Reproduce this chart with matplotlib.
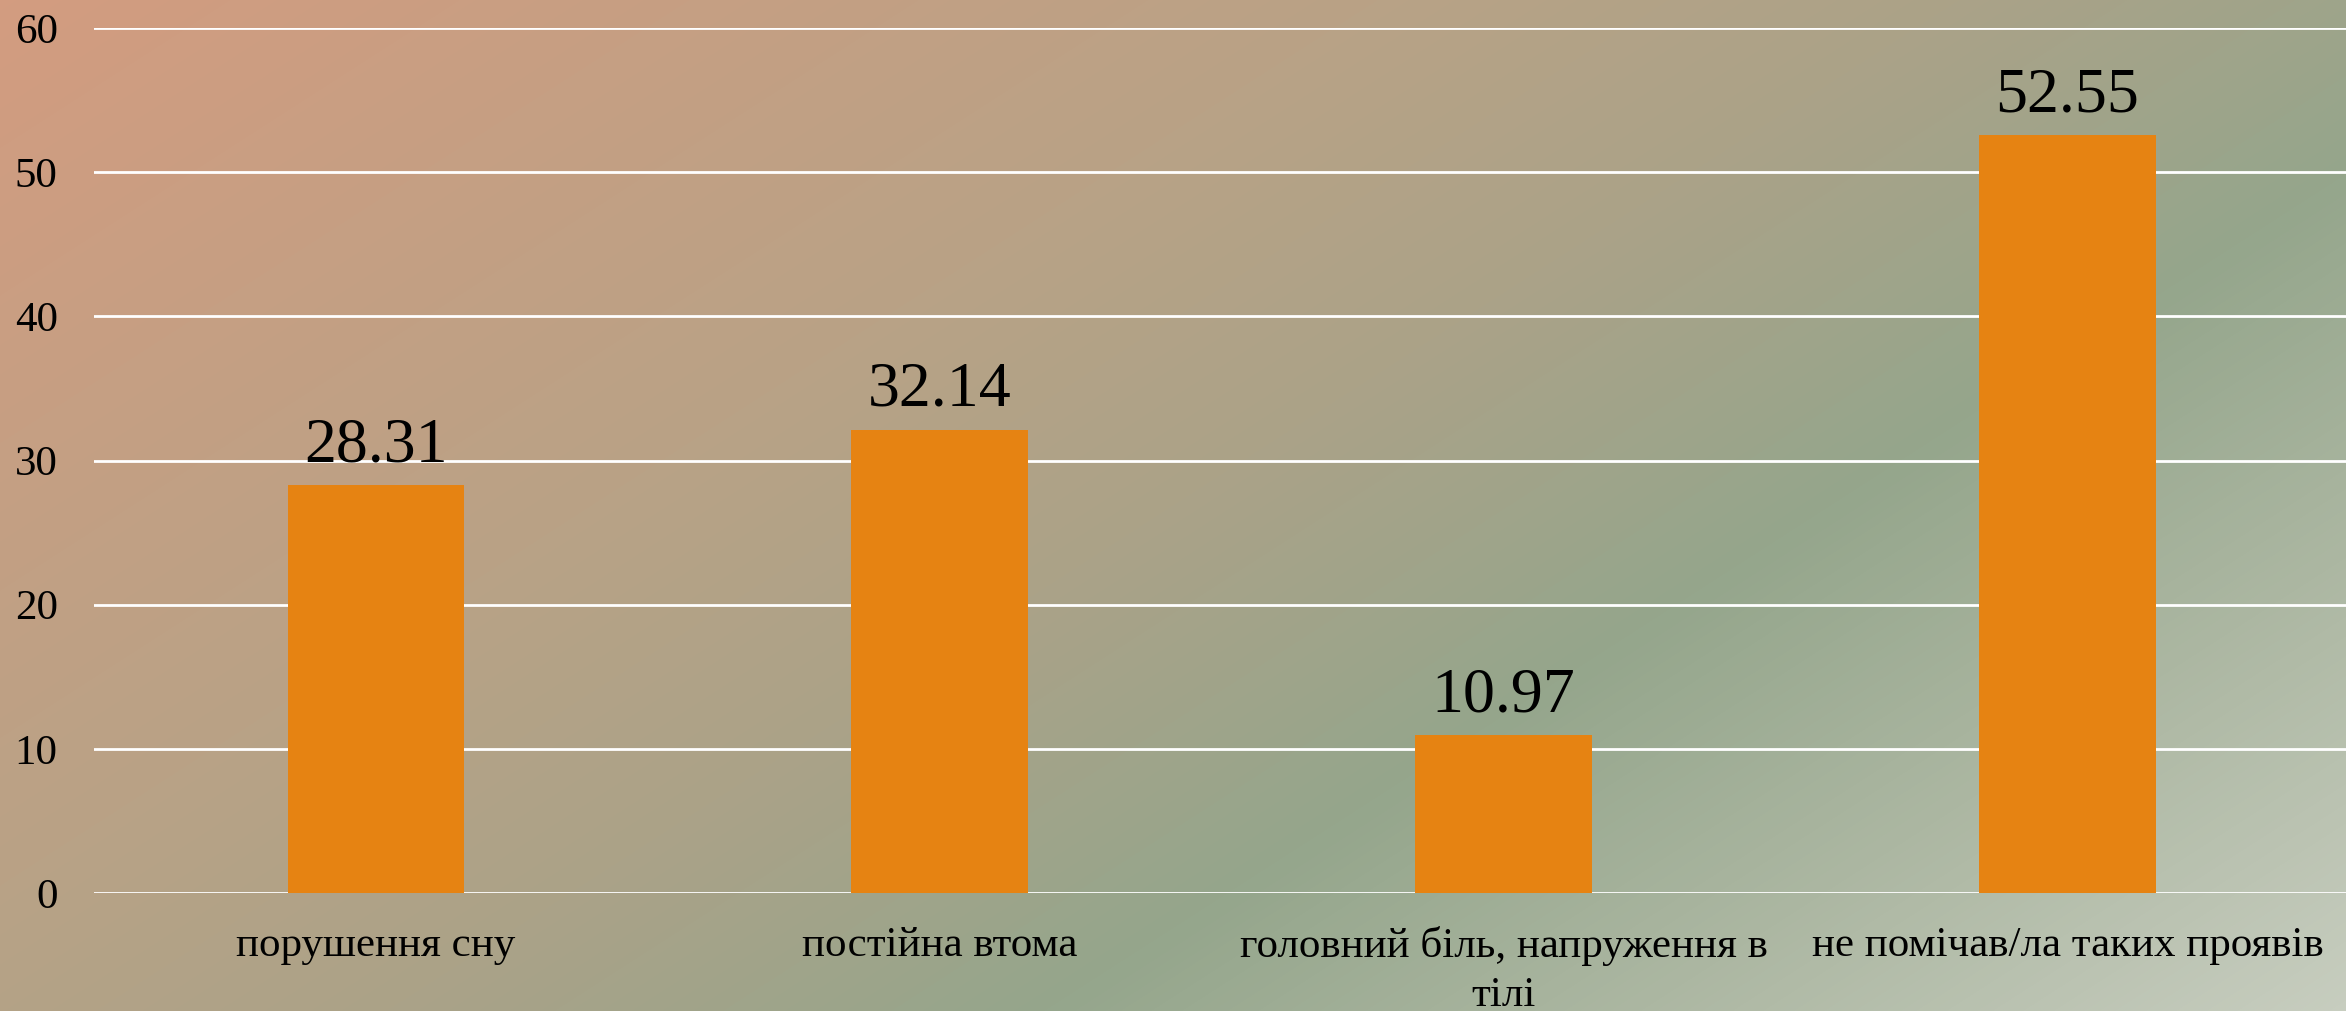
import matplotlib
matplotlib.use("Agg")
import matplotlib.pyplot as plt
from matplotlib.colors import LinearSegmentedColormap
import numpy as np

# ===== Data =====
categories = ["порушення сну", "постійна втома",
              "головний біль, напруження в\nтілі", "не помічав/ла таких проявів"]
values = [28.31, 32.14, 10.97, 52.55]
yticks = [0, 10, 20, 30, 40, 50, 60]

plt.rcParams['font.family'] = ['Liberation Serif', 'DejaVu Serif']

fig = plt.figure(figsize=(23.46, 10.11), dpi=100)

# ===== Background gradient =====
bg_cmap = LinearSegmentedColormap.from_list("bg", [
    (0.0, "#d39c80"), (0.35, "#b9a286"), (0.5, "#aba288"),
    (0.67, "#95a68c"), (0.82, "#acb7a2"), (1.0, "#c7cdbf")])
H, W = 1011, 2346
yy, xx = np.mgrid[0:H, 0:W]
t = xx * 0.54 + yy * 0.84
t = (t - t.min()) / (t.max() - t.min())
bg = fig.add_axes([0, 0, 1, 1], zorder=-1)
bg.imshow(bg_cmap(t), aspect="auto", extent=[0, 1, 0, 1], origin="upper")
bg.axis("off")

# ===== Bars =====
ax = fig.add_axes([0.0400, 0.1167, 0.9615, 0.8556])
ax.patch.set_alpha(0)
x = np.arange(len(categories))
bars = ax.bar(x, values, width=0.313, color="#e68312", zorder=3)
for b, v in zip(bars, values):
    ax.annotate(f"{v:.2f}", (b.get_x() + b.get_width() / 2, v),
                xytext=(0, 7), textcoords="offset points",
                ha="center", va="bottom", fontsize=46)

ax.set_xlim(-0.5, 3.5)
ax.set_ylim(0, 60)
ax.set_yticks(yticks)
ax.set_xticks(x)
ax.set_xticklabels(categories, fontsize=31, linespacing=1.35)
ax.tick_params(axis="y", labelsize=31, length=0, pad=26)
ax.tick_params(axis="x", length=0, pad=24)
ax.grid(axis="y", color="white", linewidth=2, zorder=1)
for s in ax.spines.values():
    s.set_visible(False)

fig.savefig("out.png", dpi=100)
